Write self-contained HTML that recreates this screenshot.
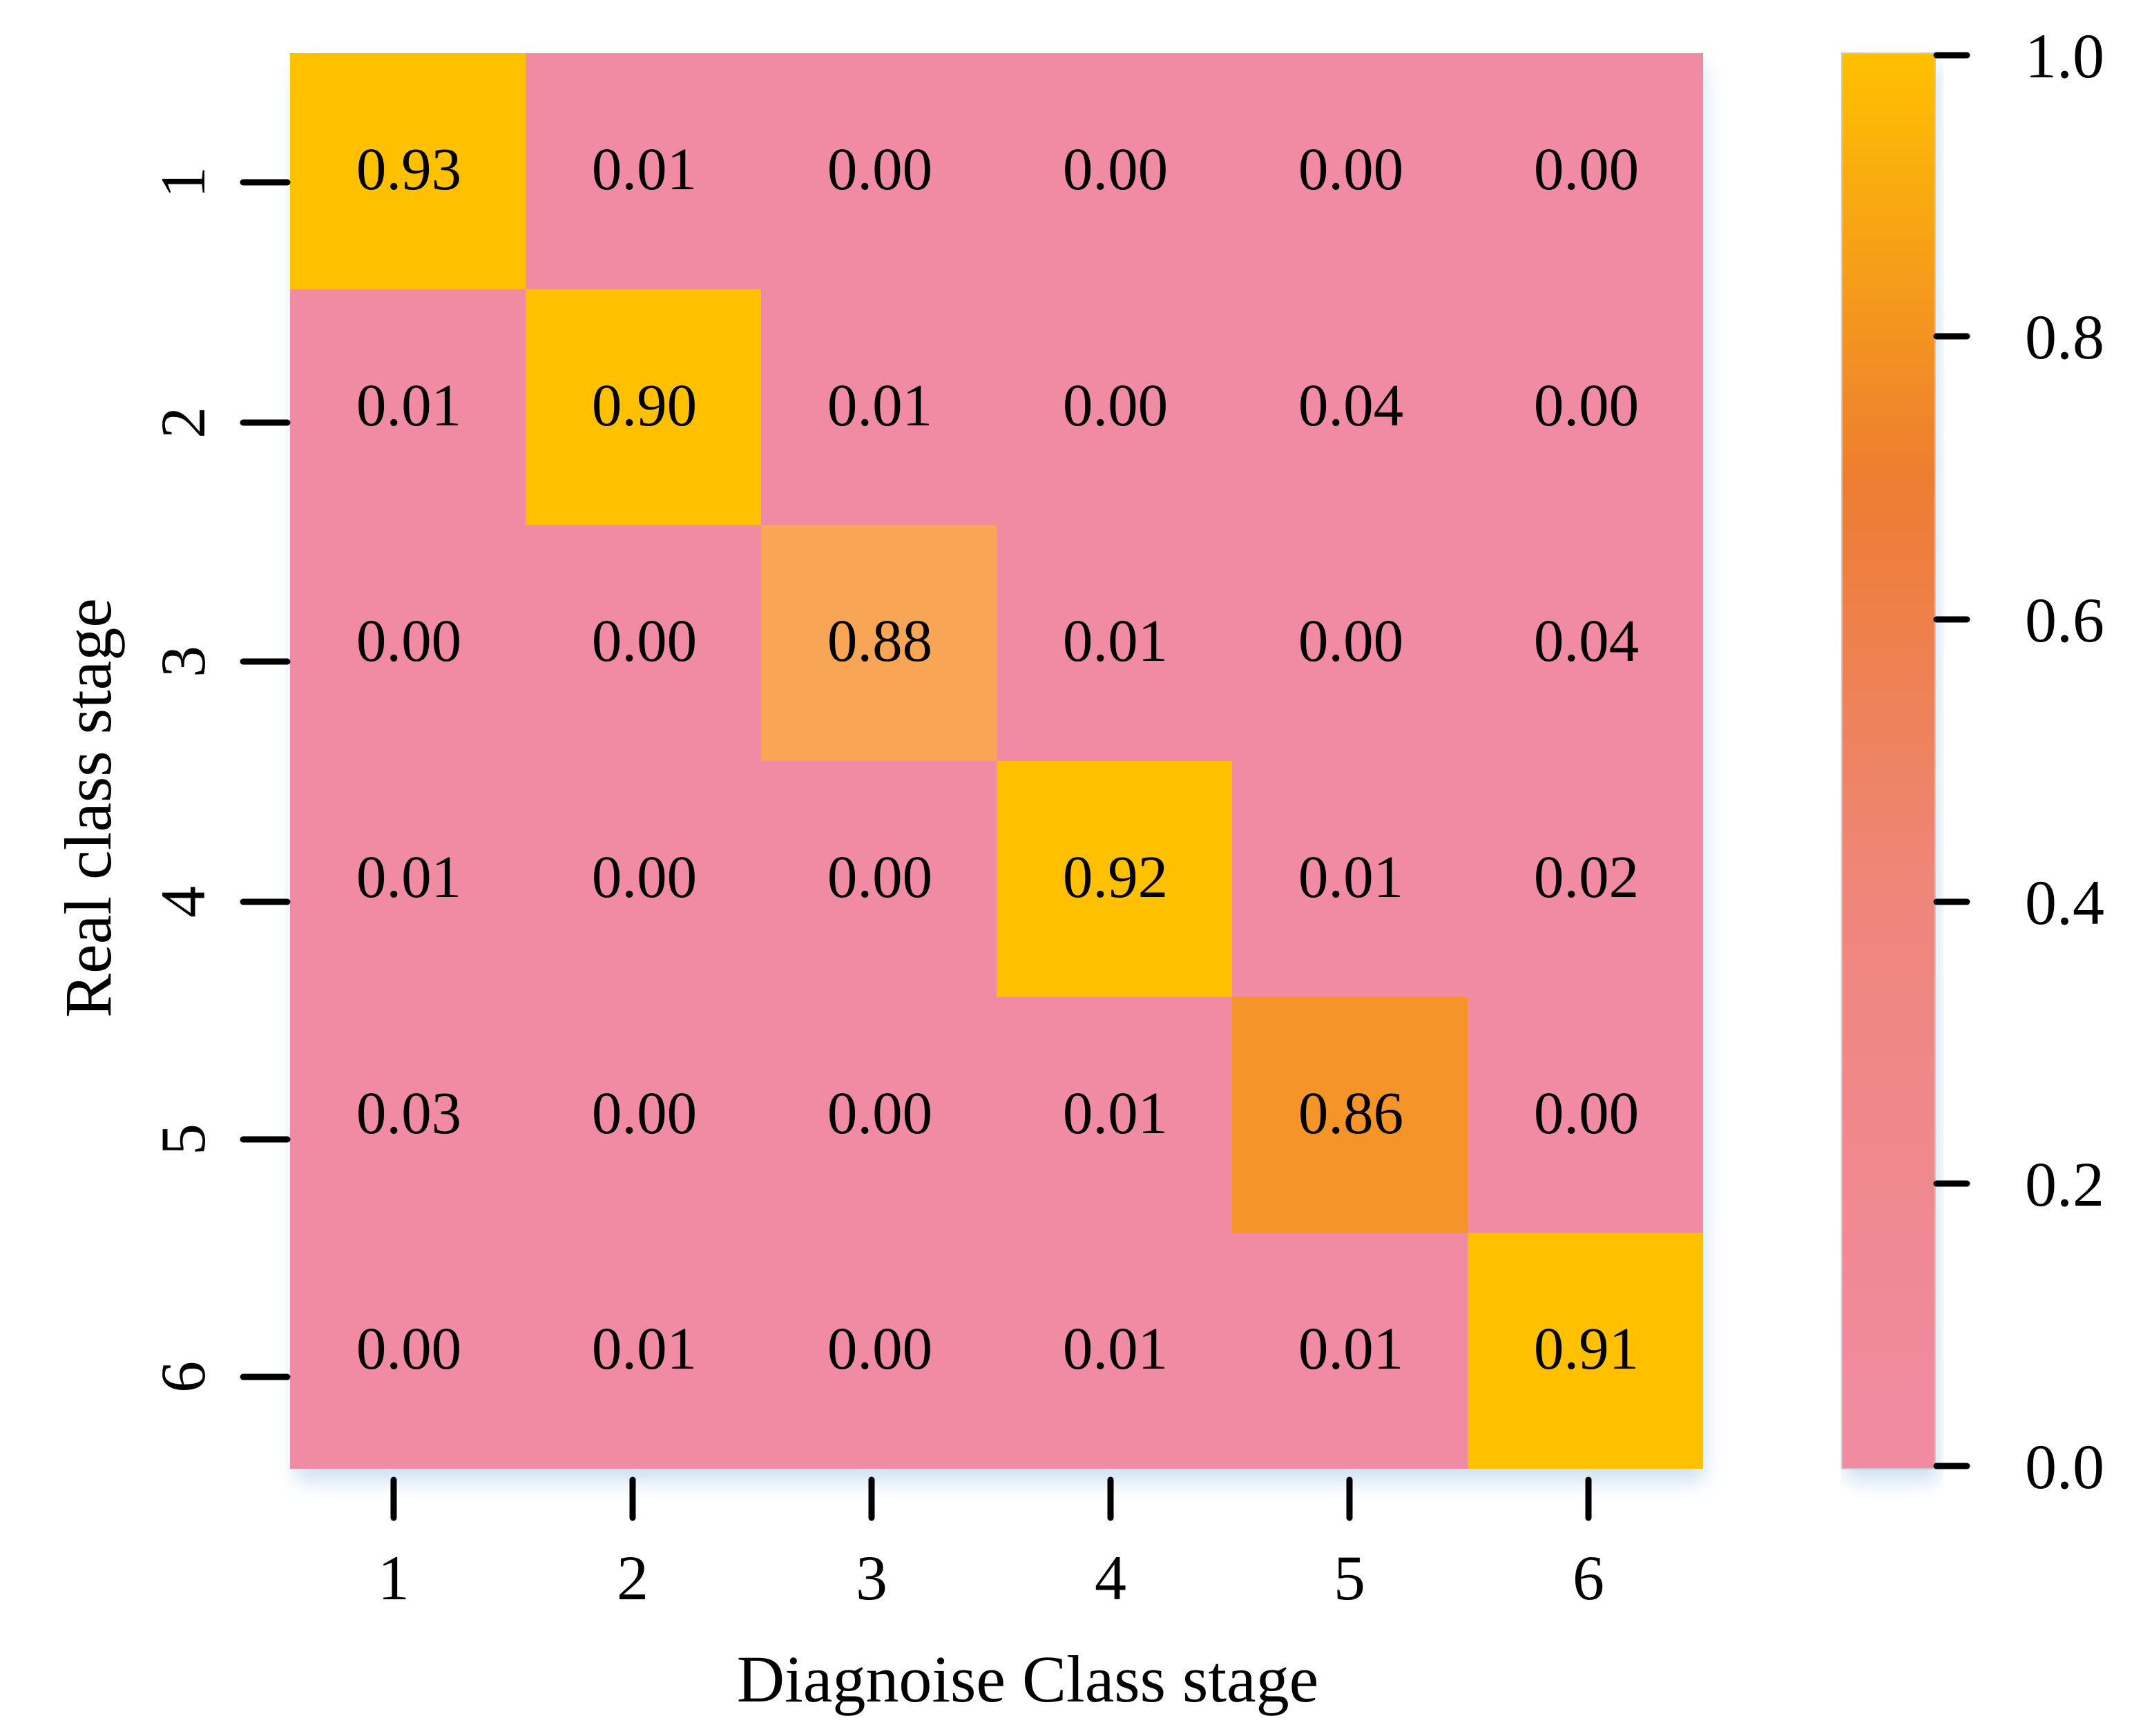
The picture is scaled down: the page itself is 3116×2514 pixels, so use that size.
<!DOCTYPE html>
<html><head><meta charset="utf-8"><style>
html,body{margin:0;padding:0;background:#fff;}
svg{display:block;}
text{font-family:"Liberation Serif",serif;fill:#000;}
</style></head><body>
<svg width="3116" height="2514" viewBox="0 0 3116 2514" xmlns="http://www.w3.org/2000/svg">
<defs>
<linearGradient id="cb" x1="0" y1="1" x2="0" y2="0">
<stop offset="0" stop-color="#F08BA3"/>
<stop offset="0.4" stop-color="#EF867C"/>
<stop offset="0.7" stop-color="#ED7D31"/>
<stop offset="1" stop-color="#FFC000"/>
</linearGradient>
<filter id="sh" x="-5%" y="-5%" width="110%" height="115%">
<feGaussianBlur stdDeviation="14"/>
</filter>
</defs>
<rect x="428" y="95" width="2040" height="2050" fill="#cfe0f2" filter="url(#sh)"/>
<rect x="2672" y="95" width="135" height="2050" fill="#cfe0f2" filter="url(#sh)"/>
<rect x="420" y="77" width="2046" height="2050" fill="#F08BA3"/>
<rect x="420" y="77" width="341" height="341.7" fill="#FFC000"/>
<rect x="761" y="418.7" width="341" height="341.7" fill="#FFC000"/>
<rect x="1102" y="760.3" width="341" height="341.7" fill="#F8A555"/>
<rect x="1443" y="1102" width="341" height="341.7" fill="#FFC000"/>
<rect x="1784" y="1443.7" width="341" height="341.7" fill="#F59428"/>
<rect x="2125" y="1785.3" width="341" height="341.7" fill="#FFC000"/>
<g font-size="87" text-anchor="middle">
<text x="592" y="274">0.93</text><text x="933" y="274">0.01</text><text x="1274" y="274">0.00</text><text x="1615" y="274">0.00</text><text x="1956" y="274">0.00</text><text x="2297" y="274">0.00</text>
<text x="592" y="616">0.01</text><text x="933" y="616">0.90</text><text x="1274" y="616">0.01</text><text x="1615" y="616">0.00</text><text x="1956" y="616">0.04</text><text x="2297" y="616">0.00</text>
<text x="592" y="957">0.00</text><text x="933" y="957">0.00</text><text x="1274" y="957">0.88</text><text x="1615" y="957">0.01</text><text x="1956" y="957">0.00</text><text x="2297" y="957">0.04</text>
<text x="592" y="1299">0.01</text><text x="933" y="1299">0.00</text><text x="1274" y="1299">0.00</text><text x="1615" y="1299">0.92</text><text x="1956" y="1299">0.01</text><text x="2297" y="1299">0.02</text>
<text x="592" y="1641">0.03</text><text x="933" y="1641">0.00</text><text x="1274" y="1641">0.00</text><text x="1615" y="1641">0.01</text><text x="1956" y="1641">0.86</text><text x="2297" y="1641">0.00</text>
<text x="592" y="1982">0.00</text><text x="933" y="1982">0.01</text><text x="1274" y="1982">0.00</text><text x="1615" y="1982">0.01</text><text x="1956" y="1982">0.01</text><text x="2297" y="1982">0.91</text>
</g>
<g stroke="#000" stroke-width="9" stroke-linecap="round">
<line x1="352" y1="264" x2="416" y2="264"/>
<line x1="352" y1="612" x2="416" y2="612"/>
<line x1="352" y1="958" x2="416" y2="958"/>
<line x1="352" y1="1306" x2="416" y2="1306"/>
<line x1="352" y1="1650" x2="416" y2="1650"/>
<line x1="352" y1="1994" x2="416" y2="1994"/>
<line x1="570" y1="2143" x2="570" y2="2198"/>
<line x1="916" y1="2143" x2="916" y2="2198"/>
<line x1="1262" y1="2143" x2="1262" y2="2198"/>
<line x1="1608" y1="2143" x2="1608" y2="2198"/>
<line x1="1954" y1="2143" x2="1954" y2="2198"/>
<line x1="2300" y1="2143" x2="2300" y2="2198"/>
</g>
<g font-size="92" text-anchor="middle">
<text transform="translate(296,264) rotate(-90)">1</text>
<text transform="translate(296,612) rotate(-90)">2</text>
<text transform="translate(296,958) rotate(-90)">3</text>
<text transform="translate(296,1306) rotate(-90)">4</text>
<text transform="translate(296,1650) rotate(-90)">5</text>
<text transform="translate(296,1994) rotate(-90)">6</text>
<text x="570" y="2316">1</text><text x="916" y="2316">2</text><text x="1262" y="2316">3</text>
<text x="1608" y="2316">4</text><text x="1954" y="2316">5</text><text x="2300" y="2316">6</text>
</g>
<g font-size="96" text-anchor="middle">
<text x="1488" y="2464">Diagnoise Class stage</text>
<text transform="translate(160,1170) rotate(-90)">Real class stage</text>
</g>
<rect x="2667" y="77" width="135" height="2050" fill="url(#cb)" stroke="#c8c8c8" stroke-width="2"/>
<g stroke="#000" stroke-width="9" stroke-linecap="round">
<line x1="2804" y1="80" x2="2848" y2="80"/>
<line x1="2804" y1="487" x2="2848" y2="487"/>
<line x1="2804" y1="897" x2="2848" y2="897"/>
<line x1="2804" y1="1306" x2="2848" y2="1306"/>
<line x1="2804" y1="1714" x2="2848" y2="1714"/>
<line x1="2804" y1="2123" x2="2848" y2="2123"/>
</g>
<g font-size="92">
<text x="2932" y="112">1.0</text>
<text x="2932" y="519">0.8</text>
<text x="2932" y="929">0.6</text>
<text x="2932" y="1338">0.4</text>
<text x="2932" y="1746">0.2</text>
<text x="2932" y="2155">0.0</text>
</g>
</svg>
</body></html>
